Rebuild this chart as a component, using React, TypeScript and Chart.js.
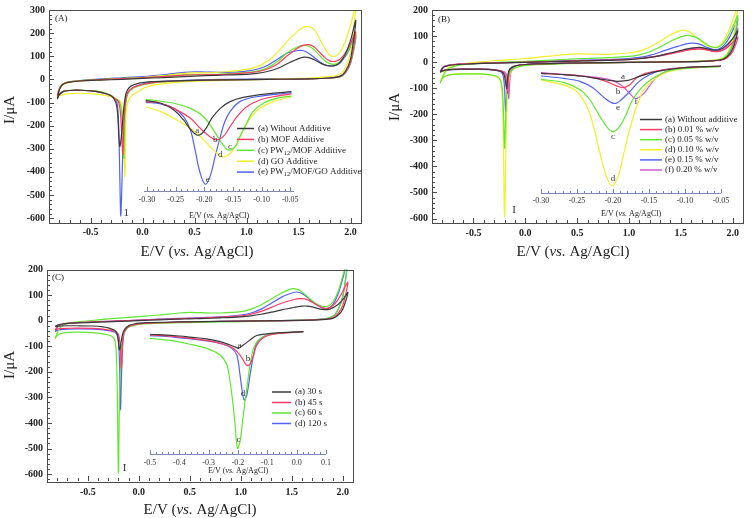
import React, { useEffect, useRef } from 'react';
import { Chart, registerables } from 'chart.js';

Chart.register(...registerables);

const SERIF = '"Liberation Serif", "Times New Roman", Times, serif';
const INK = '#222222';
const FRAME = '#4a4a4a';
const INSET_AXIS = '#8088b8';

const COL: Record<string, string> = {
  a: '#3a3a3a',
  b: '#ff3a62',
  c: '#5fe830',
  d: '#f0f026',
  e: '#5262f5',
  f: '#cc5ccc',
};

// ---------- main voltammogram data (I in µA) ----------
const X_MIN = -0.9;
const X_MAX = 2.1;
// forward (upper) branch potentials
const UP_X = [-0.82, -0.8, -0.78, -0.75, -0.7, -0.6, -0.4, -0.2, 0.0, 0.2, 0.4, 0.5, 0.6, 0.8, 1.0, 1.1, 1.2, 1.3, 1.4, 1.5, 1.55, 1.6, 1.65, 1.7, 1.75, 1.8, 1.85, 1.9, 1.95, 2.0, 2.05];
// reverse (lower) branch potentials
const LO_X = [2.0, 1.95, 1.9, 1.8, 1.6, 1.2, 0.8, 0.4, 0.1, 0.0, -0.05, -0.08, -0.1, -0.12, -0.14, -0.15, -0.16, -0.17, -0.18, -0.19, -0.2, -0.21, -0.22, -0.23, -0.24, -0.25, -0.27, -0.3, -0.35, -0.45, -0.6, -0.7, -0.76, -0.8, -0.82];

// Panel A
const A_UP_a = [-85, -45, -28, -18, -12, -7, -3, 0, 4, 8, 12, 14, 16, 19, 22, 26, 34, 48, 70, 90, 96, 94, 85, 73, 63, 58, 60, 75, 110, 170, 255];
const A_UP_b = [-70, -40, -25, -17, -11, -6, -1, 3, 7, 12, 18, 20, 20, 22, 28, 33, 45, 68, 105, 138, 148, 150, 140, 118, 95, 80, 78, 88, 115, 155, 205];
const A_UP_c = [-65, -38, -24, -16, -10, -5, 0, 4, 8, 13, 20, 21, 21, 24, 30, 36, 50, 78, 118, 142, 147, 143, 128, 105, 82, 68, 66, 78, 105, 145, 192];
const A_UP_d = [-70, -45, -30, -20, -13, -7, -2, 3, 8, 16, 26, 28, 28, 33, 43, 55, 78, 118, 170, 212, 226, 228, 215, 178, 135, 105, 100, 120, 165, 235, 320];
const A_UP_e = [-80, -42, -26, -17, -11, -5, 2, 7, 12, 20, 30, 33, 32, 30, 36, 44, 60, 88, 115, 125, 124, 112, 95, 77, 63, 58, 60, 72, 100, 140, 185];
const A_LO_a = [90, 35, 14, 6, 2, 0, -2, -5, -10, -14, -18, -22, -26, -32, -42, -50, -62, -85, -120, -170, -225, -270, -290, -230, -150, -112, -88, -72, -62, -52, -47, -48, -52, -65, -85];
const A_LO_b = [75, 30, 13, 6, 2, 0, -2, -6, -14, -22, -28, -33, -38, -45, -55, -65, -85, -120, -190, -325, -250, -160, -120, -100, -92, -88, -82, -72, -62, -52, -47, -48, -52, -65, -70];
const A_LO_c = [70, 28, 12, 6, 2, 0, -2, -6, -15, -24, -30, -36, -42, -50, -62, -75, -100, -160, -340, -250, -150, -115, -100, -92, -88, -85, -80, -70, -60, -50, -46, -47, -52, -62, -65];
const A_LO_d = [120, 50, 22, 12, 6, 0, -4, -10, -25, -40, -55, -62, -68, -78, -95, -115, -160, -420, -300, -170, -120, -100, -92, -90, -88, -86, -82, -76, -70, -64, -60, -62, -66, -72, -70];
const A_LO_e = [70, 28, 12, 6, 2, 2, 0, -4, -12, -20, -27, -32, -38, -46, -56, -66, -85, -120, -180, -300, -470, -590, -400, -200, -120, -95, -82, -72, -62, -52, -47, -48, -52, -68, -80];

// Panel B
const B_UP_a = [-40, -25, -18, -14, -11, -8, -5, -3, -1, 1, 3, 4, 5, 7, 10, 13, 18, 25, 35, 45, 50, 54, 56, 56, 52, 47, 46, 52, 68, 90, 120];
const B_UP_b = [-38, -24, -17, -13, -10, -7, -4, -2, 0, 2, 4, 5, 6, 8, 11, 14, 18, 24, 32, 40, 45, 48, 50, 50, 47, 42, 40, 45, 57, 75, 95];
const B_UP_c = [-80, -60, -42, -28, -18, -10, -4, 0, 3, 7, 11, 13, 14, 17, 22, 28, 40, 58, 80, 97, 102, 101, 95, 82, 68, 58, 56, 68, 95, 135, 178];
const B_UP_d = [-75, -55, -38, -24, -14, -7, 2, 8, 14, 22, 30, 32, 31, 30, 35, 42, 58, 80, 105, 122, 121, 112, 96, 78, 64, 58, 58, 75, 110, 160, 215];
const B_UP_e = [-35, -22, -16, -12, -10, -7, -4, -2, 0, 3, 6, 7, 8, 10, 14, 18, 26, 38, 52, 64, 70, 73, 72, 66, 57, 50, 48, 58, 82, 120, 165];
const B_UP_f = [-35, -23, -17, -13, -10, -7, -4, -2, 0, 2, 4, 5, 6, 8, 11, 14, 19, 26, 35, 42, 48, 52, 54, 53, 48, 43, 42, 48, 62, 90, 130];
const B_LO_a = [50, 22, 10, 5, 2, 0, -2, -4, -7, -9, -11, -13, -15, -18, -22, -26, -35, -55, -100, -80, -55, -44, -40, -37, -35, -34, -32, -30, -28, -27, -27, -28, -30, -34, -40];
const B_LO_b = [40, 18, 9, 5, 2, 0, -2, -4, -7, -9, -11, -13, -15, -18, -24, -30, -48, -120, -75, -55, -45, -40, -37, -35, -34, -33, -31, -30, -28, -27, -27, -28, -30, -34, -38];
const B_LO_c = [70, 30, 13, 6, 2, 0, -3, -6, -10, -13, -16, -19, -22, -27, -35, -42, -55, -80, -130, -220, -330, -200, -110, -80, -68, -62, -56, -52, -48, -45, -45, -47, -52, -62, -80];
const B_LO_d = [85, 35, 15, 7, 3, 0, -2, -5, -9, -12, -15, -18, -22, -28, -38, -48, -70, -110, -200, -400, -592, -350, -150, -90, -72, -64, -57, -52, -48, -45, -45, -47, -52, -62, -75];
const B_LO_e = [65, 28, 12, 6, 2, 0, -2, -4, -7, -9, -11, -13, -16, -20, -27, -34, -50, -80, -130, -190, -100, -60, -45, -40, -37, -35, -33, -31, -29, -28, -28, -29, -31, -34, -35];
const B_LO_f = [52, 22, 10, 5, 2, 0, -2, -4, -7, -9, -11, -13, -16, -22, -40, -75, -140, -70, -50, -42, -38, -36, -34, -33, -32, -31, -30, -29, -28, -27, -27, -28, -30, -33, -35];

// Panel C
const C_UP_a = [-23, -18, -15, -13, -11, -9, -6, -3, 0, 3, 6, 7, 8, 11, 15, 19, 25, 33, 42, 50, 54, 57, 57, 54, 48, 44, 43, 50, 62, 82, 110];
const C_UP_b = [-36, -24, -18, -14, -11, -8, -4, -1, 2, 5, 8, 9, 10, 14, 19, 25, 36, 52, 68, 80, 85, 86, 82, 72, 60, 50, 48, 58, 80, 115, 150];
const C_UP_c = [-70, -48, -32, -20, -12, -5, 3, 10, 16, 22, 30, 32, 31, 30, 35, 45, 62, 85, 108, 124, 123, 112, 95, 78, 64, 56, 56, 72, 110, 175, 240];
const C_UP_d = [-43, -28, -20, -15, -12, -8, -4, -1, 2, 6, 9, 10, 12, 15, 22, 30, 45, 68, 92, 108, 112, 106, 92, 75, 60, 50, 48, 62, 100, 165, 240];
const C_LO_a = [45, 20, 9, 4, 1, -1, -3, -5, -8, -10, -13, -16, -20, -26, -35, -42, -55, -75, -100, -114, -80, -55, -45, -40, -37, -35, -32, -28, -24, -21, -20, -20, -21, -22, -23];
const C_LO_b = [60, 26, 11, 5, 1, -1, -3, -6, -10, -13, -17, -20, -24, -30, -42, -55, -90, -186, -110, -70, -55, -48, -45, -43, -41, -40, -38, -36, -33, -30, -29, -30, -31, -33, -36];
const C_LO_c = [95, 40, 16, 6, 2, -2, -5, -8, -12, -15, -19, -22, -26, -33, -45, -55, -75, -110, -180, -320, -595, -300, -130, -85, -72, -66, -60, -56, -52, -47, -45, -46, -50, -58, -70];
const C_LO_d = [95, 40, 16, 6, 2, -1, -3, -6, -10, -13, -17, -20, -24, -30, -45, -62, -110, -220, -348, -150, -80, -58, -50, -46, -44, -43, -41, -39, -36, -33, -32, -33, -35, -38, -43];

// ---------- inset data ([E/V, I]) ----------
const IN_A_a = [[-0.302, -95], [-0.276, -106], [-0.253, -135], [-0.236, -178], [-0.224, -218], [-0.213, -243], [-0.204, -236], [-0.195, -207], [-0.187, -171], [-0.172, -128], [-0.155, -99], [-0.132, -81], [-0.091, -66], [-0.048, -56]];
const IN_A_b = [[-0.302, -99], [-0.276, -106], [-0.253, -128], [-0.224, -171], [-0.207, -214], [-0.19, -250], [-0.178, -264], [-0.167, -250], [-0.155, -207], [-0.143, -164], [-0.126, -121], [-0.103, -92], [-0.08, -78], [-0.048, -66]];
const IN_A_c = [[-0.302, -89], [-0.253, -106], [-0.224, -128], [-0.201, -164], [-0.184, -221], [-0.169, -279], [-0.158, -307], [-0.146, -293], [-0.138, -250], [-0.126, -192], [-0.115, -142], [-0.097, -106], [-0.074, -85], [-0.048, -75]];
const IN_A_d = [[-0.302, -121], [-0.276, -142], [-0.253, -171], [-0.224, -214], [-0.201, -264], [-0.184, -307], [-0.169, -336], [-0.158, -329], [-0.146, -293], [-0.132, -221], [-0.12, -171], [-0.103, -128], [-0.08, -99], [-0.048, -78]];
const IN_A_e = [[-0.302, -102], [-0.276, -109], [-0.253, -128], [-0.236, -164], [-0.224, -221], [-0.216, -307], [-0.207, -408], [-0.198, -455], [-0.19, -422], [-0.181, -336], [-0.172, -250], [-0.164, -185], [-0.155, -142], [-0.138, -99], [-0.109, -78], [-0.048, -60]];

const IN_B_a = [[-0.3, -55], [-0.268, -60], [-0.245, -65], [-0.223, -74], [-0.209, -80], [-0.195, -85], [-0.182, -82.5], [-0.177, -80], [-0.164, -67.5], [-0.15, -55], [-0.132, -45], [-0.109, -36], [-0.086, -31], [-0.05, -27.5]];
const IN_B_b = [[-0.3, -55], [-0.268, -60], [-0.245, -65], [-0.223, -74], [-0.209, -86], [-0.195, -102], [-0.186, -109], [-0.177, -99], [-0.168, -74], [-0.155, -55], [-0.132, -42.5], [-0.109, -35], [-0.05, -27.5]];
const IN_B_c = [[-0.3, -77.5], [-0.268, -90], [-0.245, -117.5], [-0.232, -155], [-0.218, -217.5], [-0.207, -261], [-0.2, -274], [-0.191, -255], [-0.182, -211], [-0.173, -155], [-0.159, -105], [-0.145, -74], [-0.127, -49], [-0.105, -37.5], [-0.05, -29]];
const IN_B_d = [[-0.3, -80], [-0.268, -99], [-0.25, -124], [-0.236, -180], [-0.227, -255], [-0.218, -355], [-0.209, -442.5], [-0.201, -477.5], [-0.193, -442.5], [-0.186, -367.5], [-0.177, -267.5], [-0.168, -186], [-0.157, -117.5], [-0.141, -74], [-0.123, -49], [-0.095, -36], [-0.05, -29]];
const IN_B_e = [[-0.3, -65], [-0.268, -74], [-0.245, -86], [-0.227, -111], [-0.214, -142.5], [-0.202, -165], [-0.196, -167.5], [-0.189, -155], [-0.177, -124], [-0.164, -86], [-0.15, -61], [-0.132, -42.5], [-0.109, -35], [-0.05, -29]];
const IN_B_f = [[-0.3, -52.5], [-0.268, -59], [-0.223, -70], [-0.2, -82.5], [-0.186, -105], [-0.177, -130], [-0.169, -149], [-0.159, -136], [-0.15, -105], [-0.141, -74], [-0.127, -49], [-0.109, -36], [-0.05, -27.5]];

const IN_C_a = [[-0.5, -53], [-0.42, -58], [-0.363, -64], [-0.307, -71], [-0.261, -82], [-0.227, -95], [-0.204, -105], [-0.199, -108], [-0.182, -95], [-0.159, -75], [-0.136, -58], [-0.079, -49], [0.023, -43]];
const IN_C_b = [[-0.5, -56], [-0.42, -61], [-0.307, -77], [-0.25, -92], [-0.216, -108], [-0.193, -134], [-0.176, -166], [-0.168, -175], [-0.159, -170], [-0.147, -134], [-0.136, -95], [-0.113, -66], [-0.079, -53], [0.023, -43]];
const IN_C_c = [[-0.5, -69], [-0.42, -79], [-0.363, -92], [-0.307, -108], [-0.261, -134], [-0.238, -173], [-0.227, -238], [-0.218, -316], [-0.21, -406], [-0.202, -497], [-0.193, -471], [-0.182, -368], [-0.17, -264], [-0.159, -173], [-0.147, -108], [-0.13, -75], [-0.102, -58], [-0.056, -49], [0.023, -43]];
const IN_C_d = [[-0.5, -58], [-0.42, -64], [-0.307, -79], [-0.25, -92], [-0.221, -108], [-0.204, -134], [-0.193, -212], [-0.187, -264], [-0.179, -309], [-0.17, -290], [-0.159, -212], [-0.147, -134], [-0.136, -88], [-0.113, -62], [-0.079, -51], [0.023, -43]];

// ---------- text ----------
type Part = { t: string; it?: boolean; sub?: boolean };
const X_TITLE: Part[] = [{ t: 'E/V (' }, { t: 'vs.', it: true }, { t: ' Ag/AgCl)' }];
const Y_TITLE = 'I/\u03bcA';

const LEG_A: Part[][] = [
  [{ t: '(a) Wihout Additive' }],
  [{ t: '(b) MOF Additive' }],
  [{ t: '(c) PW' }, { t: '12', sub: true }, { t: '/MOF Additive' }],
  [{ t: '(d) GO Additive' }],
  [{ t: '(e) PW' }, { t: '12', sub: true }, { t: '/MOF/GO Additive' }],
];
const LEG_B = ['(a) Without additive', '(b) 0.01 % w/v', '(c) 0.05 % w/v', '(d) 0.10 % w/v', '(e) 0.15 % w/v', '(f) 0.20 % w/v'];
const LEG_C = ['(a) 30 s', '(b) 45 s', '(c) 60 s', '(d) 120 s'];

// peak letters in the insets ([E/V, I, letter])
const MARK_A: [number, number, string][] = [[-0.212, -226, 'a'], [-0.181, -261, 'b'], [-0.155, -293, 'c'], [-0.172, -327, 'd'], [-0.194, -437, 'e']];
const MARK_B: [number, number, string][] = [[-0.186, -66, 'a'], [-0.193, -124, 'b'], [-0.193, -182, 'e'], [-0.168, -161, 'f'], [-0.2, -292, 'c'], [-0.2, -450, 'd']];
const MARK_C: [number, number, string][] = [[-0.195, -97, 'a'], [-0.166, -147, 'b'], [-0.183, -284, 'd'], [-0.198, -465, 'c']];

// ---------- drawing helpers ----------
function fnt(size: number, it = false, bold = false) {
  return `${it ? 'italic ' : ''}${bold ? 'bold ' : ''}${size}px ${SERIF}`;
}
function richWidth(ctx: any, parts: Part[], size: number) {
  let w = 0;
  for (const p of parts) {
    ctx.font = fnt(p.sub ? size * 0.72 : size, p.it);
    w += ctx.measureText(p.t).width;
  }
  return w;
}
function drawRich(ctx: any, parts: Part[], x: number, y: number, size: number, center: boolean) {
  let cx = center ? x - richWidth(ctx, parts, size) / 2 : x;
  ctx.textAlign = 'left';
  ctx.textBaseline = 'middle';
  for (const p of parts) {
    const s = p.sub ? size * 0.72 : size;
    ctx.font = fnt(s, p.it);
    ctx.fillText(p.t, cx, y + (p.sub ? size * 0.3 : 0));
    cx += ctx.measureText(p.t).width;
  }
}

type Deco = {
  frame?: string;
  axisLine?: string;
  ticks?: { major: number; minor: number; color: string; y: boolean };
  xTitle?: { parts: Part[]; x?: number; dy: number; size: number };
  yTitle?: { text: string; x: number; y: number; size: number };
  panel?: { text: string; dx: number; dy: number; size: number };
  marks?: { x: number; y: number; t: string; size: number }[];
  legend?: { x: number; y: number; rowH: number; lineLen: number; gap: number; size: number; rows: { color: string; parts: Part[] }[] };
};

function makeDeco(cfg: Deco) {
  return {
    id: 'deco',
    afterDatasetsDraw(chart: any) {
      const ctx = chart.ctx;
      const a = chart.chartArea;
      const xs = chart.scales.x;
      const ys = chart.scales.y;
      ctx.save();
      if (cfg.frame) {
        ctx.strokeStyle = cfg.frame;
        ctx.lineWidth = 1;
        ctx.strokeRect(Math.round(a.left) + 0.5, Math.round(a.top) + 0.5, Math.round(a.right - a.left), Math.round(a.bottom - a.top));
      }
      if (cfg.axisLine) {
        ctx.strokeStyle = cfg.axisLine;
        ctx.lineWidth = 1;
        ctx.beginPath();
        ctx.moveTo(a.left, Math.round(a.bottom) + 0.5);
        ctx.lineTo(a.right, Math.round(a.bottom) + 0.5);
        ctx.stroke();
      }
      if (cfg.ticks) {
        const tk = cfg.ticks;
        ctx.strokeStyle = tk.color;
        ctx.lineWidth = 1;
        ctx.beginPath();
        for (const t of xs.ticks) {
          const px = Math.round(xs.getPixelForValue(t.value)) + 0.5;
          const len = t.label ? tk.major : tk.minor;
          ctx.moveTo(px, a.bottom);
          ctx.lineTo(px, a.bottom - len);
        }
        if (tk.y) {
          for (const t of ys.ticks) {
            const py = Math.round(ys.getPixelForValue(t.value)) + 0.5;
            const len = t.label ? tk.major : tk.minor;
            ctx.moveTo(a.left, py);
            ctx.lineTo(a.left + len, py);
          }
        }
        ctx.stroke();
      }
      ctx.fillStyle = INK;
      if (cfg.xTitle) {
        const xt = cfg.xTitle;
        const cx = xt.x !== undefined ? xt.x : (a.left + a.right) / 2;
        drawRich(ctx, xt.parts, cx, a.bottom + xt.dy, xt.size, true);
      }
      if (cfg.yTitle) {
        const yt = cfg.yTitle;
        ctx.save();
        ctx.translate(yt.x, yt.y);
        ctx.rotate(-Math.PI / 2);
        ctx.font = fnt(yt.size);
        ctx.textAlign = 'center';
        ctx.textBaseline = 'middle';
        ctx.fillText(yt.text, 0, 0);
        ctx.restore();
      }
      if (cfg.panel) {
        ctx.font = fnt(cfg.panel.size);
        ctx.textAlign = 'left';
        ctx.textBaseline = 'middle';
        ctx.fillText(cfg.panel.text, a.left + cfg.panel.dx, a.top + cfg.panel.dy);
      }
      if (cfg.marks) {
        ctx.fillStyle = '#333';
        for (const m of cfg.marks) {
          ctx.font = fnt(m.size);
          ctx.textAlign = 'center';
          ctx.textBaseline = 'middle';
          ctx.fillText(m.t, xs.getPixelForValue(m.x), ys.getPixelForValue(m.y));
        }
      }
      if (cfg.legend) {
        const lg = cfg.legend;
        lg.rows.forEach((r, i) => {
          const y = lg.y + i * lg.rowH;
          ctx.strokeStyle = r.color;
          ctx.lineWidth = 1.5;
          ctx.beginPath();
          ctx.moveTo(lg.x, y);
          ctx.lineTo(lg.x + lg.lineLen, y);
          ctx.stroke();
          ctx.fillStyle = INK;
          drawRich(ctx, r.parts, lg.x + lg.lineLen + lg.gap, y, lg.size, false);
        });
      }
      ctx.restore();
    },
  };
}

// ---------- chart configs ----------
type Area = { left: number; right: number; top: number; bottom: number };
type Series = { color: string; up: number[]; lo: number[] };

function loop(up: number[], lo: number[]) {
  return UP_X.map((x, i) => ({ x, y: up[i] })).concat(LO_X.map((x, i) => ({ x, y: lo[i] })));
}

const mainXLabel = (v: any) => {
  const n = Math.round(Number(v) * 10);
  return n % 5 === 0 ? (n / 10).toFixed(1) : '';
};
const mainYLabel = (v: any) => {
  const n = Math.round(Number(v));
  return n % 100 === 0 ? String(n) : '';
};
const insetLabel2 = (v: any) => {
  const n = Math.round(Number(v) * 100);
  return n % 5 === 0 ? (n / 100).toFixed(2) : '';
};
const insetLabel1 = (v: any) => {
  const n = Math.round(Number(v) * 100);
  return n % 10 === 0 ? (n / 100).toFixed(1) : '';
};

function mainConfig(series: Series[], yMin: number, yMax: number, w: number, h: number, area: Area, xPad: number, yPad: number, deco: Deco): any {
  return {
    type: 'scatter',
    data: {
      datasets: series.map((s) => ({
        data: loop(s.up, s.lo),
        showLine: true,
        borderColor: s.color,
        backgroundColor: s.color,
        borderWidth: 1.2,
        pointRadius: 0,
        pointHoverRadius: 0,
        tension: 0.3,
      })),
    },
    options: {
      animation: false,
      responsive: false,
      events: [],
      layout: { padding: { left: 0, top: area.top, right: w - area.right, bottom: 0 } },
      plugins: { legend: { display: false }, tooltip: { enabled: false } },
      scales: {
        x: {
          type: 'linear',
          position: 'bottom',
          min: X_MIN,
          max: X_MAX,
          afterFit: (sc: any) => {
            sc.height = h - area.bottom;
          },
          grid: { display: false, drawTicks: false },
          border: { display: false },
          ticks: { stepSize: 0.1, includeBounds: false, autoSkip: false, maxRotation: 0, minRotation: 0, padding: xPad, color: INK, font: { family: SERIF, size: 10, weight: 'bold' }, callback: mainXLabel },
        },
        y: {
          type: 'linear',
          position: 'left',
          min: yMin,
          max: yMax,
          afterFit: (sc: any) => {
            sc.width = area.left;
          },
          grid: { display: false, drawTicks: false },
          border: { display: false },
          ticks: { stepSize: 20, includeBounds: false, autoSkip: false, padding: yPad, color: INK, font: { family: SERIF, size: 10, weight: 'bold' }, callback: mainYLabel },
        },
      },
    },
    plugins: [makeDeco(deco)],
  };
}

function insetConfig(series: { color: string; pts: number[][] }[], xMin: number, xMax: number, step: number, fmt: any, yMin: number, yMax: number, w: number, h: number, area: Area, pad: number, deco: Deco): any {
  return {
    type: 'scatter',
    data: {
      datasets: series.map((s) => ({
        data: s.pts.map((p) => ({ x: p[0], y: p[1] })),
        showLine: true,
        borderColor: s.color,
        backgroundColor: s.color,
        borderWidth: 1.2,
        pointRadius: 0,
        pointHoverRadius: 0,
        tension: 0.35,
      })),
    },
    options: {
      animation: false,
      responsive: false,
      events: [],
      layout: { padding: { left: area.left, top: area.top, right: w - area.right, bottom: 0 } },
      plugins: { legend: { display: false }, tooltip: { enabled: false } },
      scales: {
        x: {
          type: 'linear',
          position: 'bottom',
          min: xMin,
          max: xMax,
          afterFit: (sc: any) => {
            sc.height = h - area.bottom;
          },
          grid: { display: false, drawTicks: false },
          border: { display: false },
          ticks: { stepSize: step, includeBounds: false, autoSkip: false, maxRotation: 0, minRotation: 0, padding: pad, color: '#333', font: { family: SERIF, size: 8 }, callback: fmt },
        },
        y: { type: 'linear', display: false, min: yMin, max: yMax },
      },
    },
    plugins: [makeDeco(deco)],
  };
}

const MAIN_TICKS = { major: 5, minor: 3, color: FRAME, y: true };
const INSET_TICKS = { major: 4, minor: 2, color: '#7080c0', y: false };

const makeMainA = () =>
  mainConfig(
    [
      { color: COL.a, up: A_UP_a, lo: A_LO_a },
      { color: COL.b, up: A_UP_b, lo: A_LO_b },
      { color: COL.c, up: A_UP_c, lo: A_LO_c },
      { color: COL.d, up: A_UP_d, lo: A_LO_d },
      { color: COL.e, up: A_UP_e, lo: A_LO_e },
    ],
    -621, 300, 370, 262, { left: 49, right: 361, top: 9, bottom: 223 }, 3, 4,
    {
      frame: FRAME,
      ticks: MAIN_TICKS,
      xTitle: { parts: X_TITLE, x: 197, dy: 29, size: 15 },
      yTitle: { text: Y_TITLE, x: 10, y: 110, size: 15 },
      panel: { text: '(A)', dx: 6, dy: 9, size: 9 },
      marks: [{ x: -0.157, y: -579, t: '1', size: 11 }],
    }
  );

const makeMainB = () =>
  mainConfig(
    [
      { color: COL.a, up: B_UP_a, lo: B_LO_a },
      { color: COL.b, up: B_UP_b, lo: B_LO_b },
      { color: COL.c, up: B_UP_c, lo: B_LO_c },
      { color: COL.d, up: B_UP_d, lo: B_LO_d },
      { color: COL.e, up: B_UP_e, lo: B_LO_e },
      { color: COL.f, up: B_UP_f, lo: B_LO_f },
    ],
    -617, 200, 378, 262, { left: 54, right: 365, top: 6, bottom: 223 }, 4, 4,
    {
      frame: FRAME,
      ticks: MAIN_TICKS,
      xTitle: { parts: X_TITLE, x: 195, dy: 29, size: 15 },
      yTitle: { text: Y_TITLE, x: 17, y: 107, size: 15 },
      panel: { text: '(B)', dx: 6, dy: 10, size: 9 },
      marks: [{ x: -0.109, y: -567, t: 'I', size: 11 }],
    }
  );

const makeMainC = () =>
  mainConfig(
    [
      { color: COL.a, up: C_UP_a, lo: C_LO_a },
      { color: COL.b, up: C_UP_b, lo: C_LO_b },
      { color: COL.c, up: C_UP_c, lo: C_LO_c },
      { color: COL.e, up: C_UP_d, lo: C_LO_d },
    ],
    -627, 200, 370, 260, { left: 47, right: 353, top: 11.5, bottom: 223 }, 5, 4,
    {
      frame: FRAME,
      ticks: MAIN_TICKS,
      xTitle: { parts: X_TITLE, x: 200, dy: 29, size: 15 },
      yTitle: { text: Y_TITLE, x: 10, y: 107, size: 15 },
      panel: { text: '(C)', dx: 5, dy: 8, size: 9 },
      marks: [{ x: -0.139, y: -575, t: 'I', size: 11 }],
    }
  );

const toMarks = (m: [number, number, string][]) => m.map(([x, y, t]) => ({ x, y, t, size: 9 }));

const makeInsetA = () =>
  insetConfig(
    [
      { color: COL.a, pts: IN_A_a },
      { color: COL.b, pts: IN_A_b },
      { color: COL.c, pts: IN_A_c },
      { color: COL.d, pts: IN_A_d },
      { color: COL.e, pts: IN_A_e },
    ],
    -0.305, -0.0435, 0.01, insetLabel2, -484, -49, 234, 137, { left: 16, right: 166, top: 4, bottom: 105 }, 4,
    {
      axisLine: INSET_AXIS,
      ticks: INSET_TICKS,
      xTitle: { parts: X_TITLE, dy: 25, size: 8 },
      marks: toMarks(MARK_A),
      legend: { x: 109, y: 42.5, rowH: 10.9, lineLen: 17, gap: 4, size: 9, rows: LEG_A.map((p, i) => ({ color: COL['abcde'[i]], parts: p })) },
    }
  );

const makeInsetB = () =>
  insetConfig(
    [
      { color: COL.a, pts: IN_B_a },
      { color: COL.b, pts: IN_B_b },
      { color: COL.c, pts: IN_B_c },
      { color: COL.d, pts: IN_B_d },
      { color: COL.e, pts: IN_B_e },
      { color: COL.f, pts: IN_B_f },
    ],
    -0.3, -0.05, 0.01, insetLabel2, -504, -20, 236, 162, { left: 21, right: 201, top: 4, bottom: 133 }, 3.5,
    {
      axisLine: INSET_AXIS,
      ticks: INSET_TICKS,
      xTitle: { parts: X_TITLE, dy: 21, size: 8 },
      marks: toMarks(MARK_B),
      legend: { x: 120, y: 59.5, rowH: 10.1, lineLen: 22, gap: 3, size: 9, rows: LEG_B.map((t, i) => ({ color: COL['abcdef'[i]], parts: [{ t }] })) },
    }
  );

const makeInsetC = () =>
  insetConfig(
    [
      { color: COL.a, pts: IN_C_a },
      { color: COL.b, pts: IN_C_b },
      { color: COL.c, pts: IN_C_c },
      { color: COL.e, pts: IN_C_d },
    ],
    -0.5, 0.1, 0.02, insetLabel1, -519.5, -17, 220, 159, { left: 20, right: 196, top: 4, bottom: 133 }, 4,
    {
      axisLine: INSET_AXIS,
      ticks: INSET_TICKS,
      xTitle: { parts: X_TITLE, dy: 17, size: 8 },
      marks: toMarks(MARK_C),
      legend: { x: 142, y: 71, rowH: 10.5, lineLen: 19, gap: 4, size: 9, rows: LEG_C.map((t, i) => ({ color: [COL.a, COL.b, COL.c, COL.e][i], parts: [{ t }] })) },
    }
  );

function ChartBox(props: { make: () => any; left: number; top: number; width: number; height: number }) {
  const ref = useRef<HTMLCanvasElement>(null);
  useEffect(() => {
    const chart = new Chart(ref.current as HTMLCanvasElement, props.make());
    return () => chart.destroy();
  }, []);
  return (
    <canvas
      ref={ref}
      width={props.width}
      height={props.height}
      style={{ position: 'absolute', left: props.left, top: props.top, width: props.width, height: props.height }}
    />
  );
}

export default function App() {
  return (
    <div style={{ position: 'absolute', left: 0, top: 0, width: 756, height: 518, background: '#ffffff', overflow: 'hidden' }}>
      <ChartBox make={makeMainA} left={0} top={0} width={370} height={262} />
      <ChartBox make={makeMainB} left={378} top={0} width={378} height={262} />
      <ChartBox make={makeMainC} left={0} top={258} width={370} height={260} />
      <ChartBox make={makeInsetA} left={128} top={86} width={234} height={137} />
      <ChartBox make={makeInsetB} left={520} top={60} width={236} height={162} />
      <ChartBox make={makeInsetC} left={130} top={321} width={220} height={159} />
    </div>
  );
}
